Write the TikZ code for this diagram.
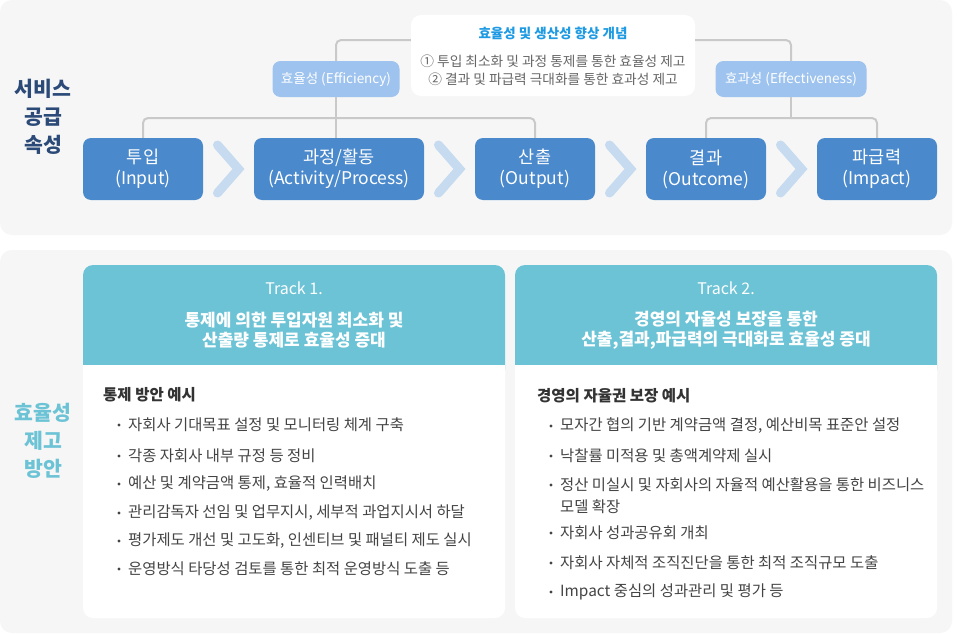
\documentclass[tikz,border=0pt]{standalone}
\usepackage{fontspec}
\setmainfont{Noto Sans CJK KR}
\usetikzlibrary{calc}
\definecolor{panel}{HTML}{F6F6F6}
\definecolor{procblue}{HTML}{4A89CC}
\definecolor{lightblue}{HTML}{9DC3EE}
\definecolor{chev}{HTML}{C6DAF0}
\definecolor{connc}{HTML}{C9C9C9}
\definecolor{navy}{HTML}{2B4A78}
\definecolor{tealc}{HTML}{6CC3D5}
\definecolor{titleblue}{HTML}{1E9BE3}
\definecolor{graytext}{HTML}{666666}
\definecolor{bodytext}{HTML}{444444}
\definecolor{headtext}{HTML}{333333}
\tikzset{
  procbox/.style={fill=procblue, rounded corners=8pt, minimum height=62pt, text=white, align=center, inner sep=0pt, font=\fontsize{17.5}{21}\selectfont},
  softbox/.style={fill=lightblue, rounded corners=8pt, minimum height=36pt, text=white, inner sep=0pt, font=\fontsize{13.5}{16}\selectfont},
  conbox/.style={fill=white, rounded corners=10pt, minimum width=284pt, minimum height=81pt, inner sep=0pt},
  cline/.style={draw=connc, line width=2pt, rounded corners=5pt},
  chevline/.style={draw=chev, line width=9pt, line cap=round, line join=miter},
  sidelabel/.style={align=center, font=\fontsize{20.5}{28}\selectfont\bfseries},
  hsmall/.style={text=white, font=\fontsize{16}{20}\selectfont},
  hbig/.style={text=white, align=center, font=\fontsize{17}{20}\selectfont\bfseries},
  btitle/.style={anchor=west, text=headtext, inner sep=0pt, font=\fontsize{15.5}{18}\selectfont\bfseries},
  item/.style={anchor=west, text=bodytext, inner sep=0pt, align=left, font=\fontsize{15.4}{22}\selectfont},
}
\newcommand{\bul}[1]{\fill[bodytext] ($(#1.west)+(-9pt,0)$) circle (1.7pt);}
\begin{document}
\begin{tikzpicture}[x=1pt,y=-1pt]
\useasboundingbox (0,0) rectangle (957,634);
\fill[white] (0,0) rectangle (957,634);
\fill[panel, rounded corners=12pt] (0,0) rectangle (952,235);
\fill[panel, rounded corners=12pt] (0,250) rectangle (952,633);

% side labels
\node[sidelabel, text=navy] (svc) at (43,117) {서비스\\공급\\속성};
\node[sidelabel, text=tealc] (imp2) at (43,441) {효율성\\제고\\방안};

% process boxes
\node[procbox, minimum width=120pt] (in) at (143,169) {투입\\(Input)};
\node[procbox, minimum width=170pt] (act) at (339,169) {과정/활동\\(Activity/Process)};
\node[procbox, minimum width=120pt] (out) at (535,169) {산출\\(Output)};
\node[procbox, minimum width=120pt] (res) at (706,169) {결과\\(Outcome)};
\node[procbox, minimum width=120pt] (imp) at (877,169) {파급력\\(Impact)};

% chevrons
\foreach \a/\b in {in/act, act/out, out/res, res/imp}{
  \coordinate (m) at ($(\a.east)!0.5!(\b.west)$);
  \draw[chevline] ($(m)+(-11,-24)$) -- ($(m)+(10,0)$) -- ($(m)+(-11,24)$);
}

% concept box and soft nodes
\node[conbox] (con) at (553,55.5) {};
\node[text=titleblue, font=\fontsize{13.5}{15}\selectfont\bfseries] (ctitle) at (553,33) {효율성 및 생산성 향상 개념};
\node[text=graytext, align=center, font=\fontsize{13.7}{18}\selectfont] (ctext) at (553,70) {① 투입 최소화 및 과정 통제를 통한 효율성 제고\\② 결과 및 파급력 극대화를 통한 효과성 제고};

\node[softbox, minimum width=127pt] (eff) at (336,79) {효율성 (Efficiency)};
\node[softbox, minimum width=151pt] (eff2) at (791,79) {효과성 (Effectiveness)};

\coordinate (bus) at (0,118);
\draw[cline] (eff.north) |- ($(con.north west)!0.31!(con.south west)$);
\draw[cline] (eff2.north) |- ($(con.north east)!0.31!(con.south east)$);
\draw[cline] (eff.south) -- (eff.south |- act.north);
\draw[cline] (in.north) |- (bus -| act.north) -| (out.north);
\draw[cline] (eff2.south) -- (eff2.south |- bus);
\draw[cline] (res.north) |- (bus -| eff2.south) -| (imp.north);

% track cards
\fill[white, rounded corners=10pt] (83,265) rectangle (505,618);
\fill[tealc, rounded corners=10pt] (83,265) rectangle (505,380);
\fill[white] (83,365) rectangle (505,385);
\fill[white, rounded corners=10pt] (515,265) rectangle (937,618);
\fill[tealc, rounded corners=10pt] (515,265) rectangle (937,380);
\fill[white] (515,365) rectangle (937,385);

\node[hsmall] (t1) at (294,288) {Track 1.};
\node[hbig] (t1b) at (294,330) {통제에 의한 투입자원 최소화 및\\산출량 통제로 효율성 증대};
\node[hsmall] (t2) at (726,288) {Track 2.};
\node[hbig] (t2b) at (726,330) {경영의 자율성 보장을 통한\\산출,결과,파급력의 극대화로 효율성 증대};

\node[btitle] (b1) at (103,395) {통제 방안 예시};
\node[item] (a1) at (128,425) {자회사 기대목표 설정 및 모니터링 체계 구축}; \bul{a1}
\node[item] (a2) at (128,456) {각종 자회사 내부 규정 등 정비}; \bul{a2}
\node[item] (a3) at (128,484) {예산 및 계약금액 통제, 효율적 인력배치}; \bul{a3}
\node[item] (a4) at (128,513) {관리감독자 선임 및 업무지시, 세부적 과업지시서 하달}; \bul{a4}
\node[item] (a5) at (128,541) {평가제도 개선 및 고도화, 인센티브 및 패널티 제도 실시}; \bul{a5}
\node[item] (a6) at (128,569) {운영방식 타당성 검토를 통한 최적 운영방식 도출 등}; \bul{a6}

\node[btitle] (b2) at (537,396) {경영의 자율권 보장 예시};
\node[item] (c1) at (560,426) {모자간 협의 기반 계약금액 결정, 예산비목 표준안 설정}; \bul{c1}
\node[item] (c2) at (560,456) {낙찰률 미적용 및 총액계약제 실시}; \bul{c2}
\node[item] (c3) at (560,496) {정산 미실시 및 자회사의 자율적 예산활용을 통한 비즈니스\\모델 확장};
\fill[bodytext] ($(c3.west)+(-9pt,11pt)$) circle (1.7pt);
\node[item] (c4) at (560,533) {자회사 성과공유회 개최}; \bul{c4}
\node[item] (c5) at (560,563) {자회사 자체적 조직진단을 통한 최적 조직규모 도출}; \bul{c5}
\node[item] (c6) at (560,592) {Impact 중심의 성과관리 및 평가 등}; \bul{c6}
\end{tikzpicture}
\end{document}
